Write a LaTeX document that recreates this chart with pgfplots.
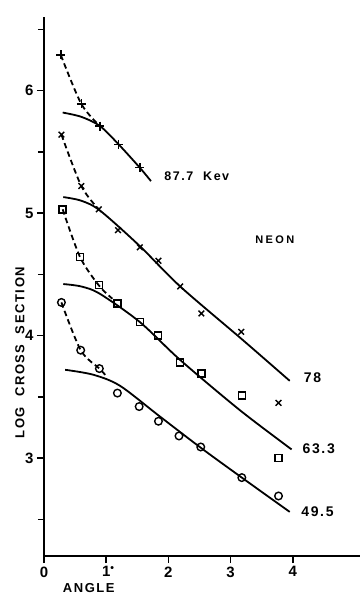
\documentclass[border=0pt]{standalone}
\usepackage{pgfplots}
\pgfplotsset{compat=1.18}
\usepackage{fontspec}
\setmainfont{Liberation Sans}
\newfontfamily\lab[LetterSpace=12]{Liberation Sans}
\newfontfamily\labw[LetterSpace=22]{Liberation Sans}
\begin{document}
\begin{tikzpicture}
\begin{axis}[
  scale only axis, width=316pt, height=539pt,
  xmin=0, xmax=5.08, ymin=2.2, ymax=6.6,
  axis x line*=bottom, axis y line*=left,
  axis line style={-, line width=1.6pt},
  xtick={0,1,2,3,4}, xticklabels={0,1\rlap{\textsuperscript{•}},2,3,4},
  ytick={3,4,5,6}, minor ytick={2.5,3.5,4.5,5.5,6.5},
  tick align=outside, major tick length=7pt, minor tick length=6pt,
  tick style={line width=1.5pt, black},
  ticklabel style={font=\bfseries\fontsize{15}{15}\selectfont},
  /pgf/number format/assume math mode=true,
  clip=false,
]
% 87.7 keV
\addplot[smooth, line width=1.8pt] coordinates {(0.3,5.82) (0.6,5.785) (0.9,5.71) (1.2,5.56) (1.54,5.37) (1.72,5.26)};
\addplot[smooth, line width=1.8pt, dash pattern=on 5.5pt off 3.5pt] coordinates {(0.27,6.29) (0.6,5.89) (0.9,5.71)};
\addplot[only marks, mark=+, mark size=4.5pt, mark options={line width=1.6pt}] coordinates {(0.27,6.29) (0.6,5.89) (0.9,5.71) (1.2,5.56) (1.54,5.37)};
% 78
\addplot[smooth, line width=1.8pt] coordinates {(0.31,5.13) (0.6,5.10) (0.9,5.02) (1.54,4.73) (2.19,4.40) (3.18,3.97) (3.95,3.63)};
\addplot[smooth, line width=1.8pt, dash pattern=on 5.5pt off 3.5pt] coordinates {(0.28,5.64) (0.6,5.22) (0.88,5.03)};
\addplot[only marks, mark=x, mark size=4pt, mark options={line width=1.4pt}] coordinates {(0.28,5.64) (0.6,5.22) (0.88,5.03) (1.19,4.86) (1.54,4.72) (1.84,4.61) (2.19,4.40) (2.53,4.18) (3.17,4.03) (3.77,3.45)};
% 63.3
\addplot[smooth, line width=1.8pt] coordinates {(0.31,4.42) (0.6,4.40) (0.9,4.34) (1.54,4.11) (2.19,3.80) (3.15,3.39) (3.98,3.07)};
\addplot[smooth, line width=1.8pt, dash pattern=on 5.5pt off 3.5pt] coordinates {(0.3,5.03) (0.58,4.64) (0.88,4.41) (1.1,4.30)};
\addplot[only marks, mark=square, mark size=3.5pt, mark options={line width=1.4pt, fill=white}] coordinates {(0.3,5.03) (0.58,4.64) (0.88,4.41) (1.18,4.26) (1.54,4.11) (1.83,4.0) (2.19,3.78) (2.53,3.69) (3.18,3.51) (3.77,3.0)};
% 49.5
\addplot[smooth, line width=1.8pt] coordinates {(0.34,3.72) (0.79,3.68) (1.22,3.59) (1.86,3.34) (2.53,3.08) (3.18,2.84) (3.95,2.56)};
\addplot[smooth, line width=1.8pt, dash pattern=on 5.5pt off 3.5pt] coordinates {(0.28,4.27) (0.59,3.88) (0.89,3.73) (1.0,3.67)};
\addplot[only marks, mark=o, mark size=3.8pt, mark options={line width=1.4pt, fill=white}] coordinates {(0.28,4.27) (0.59,3.88) (0.89,3.73) (1.18,3.53) (1.53,3.42) (1.84,3.30) (2.17,3.18) (2.52,3.09) (3.18,2.84) (3.77,2.69)};
% labels
\node[anchor=west, font=\lab\bfseries\fontsize{12.5}{12.5}\selectfont] at (axis cs:1.88,5.30) {87.7~~Kev};
\node[anchor=west, font=\labw\bfseries\fontsize{11}{11}\selectfont] at (axis cs:3.34,4.78) {NEON};
\node[anchor=west, font=\lab\bfseries\fontsize{14}{14}\selectfont] at (axis cs:4.12,3.655) {78};
\node[anchor=west, font=\lab\bfseries\fontsize{14}{14}\selectfont] at (axis cs:4.10,3.08) {63.3};
\node[anchor=west, font=\lab\bfseries\fontsize{14}{14}\selectfont] at (axis cs:4.08,2.56) {49.5};
\node[font=\lab\bfseries\fontsize{13}{13}\selectfont] at (axis cs:0.72,1.94) {ANGLE};
\node[rotate=90, font=\lab\bfseries\fontsize{13}{13}\selectfont] at (axis cs:-0.386,3.86) {LOG~~CROSS~~SECTION};
\end{axis}
\pgfresetboundingbox
\path[use as bounding box] (-44pt,-39pt) rectangle (316pt,556pt);
\end{tikzpicture}
\end{document}
